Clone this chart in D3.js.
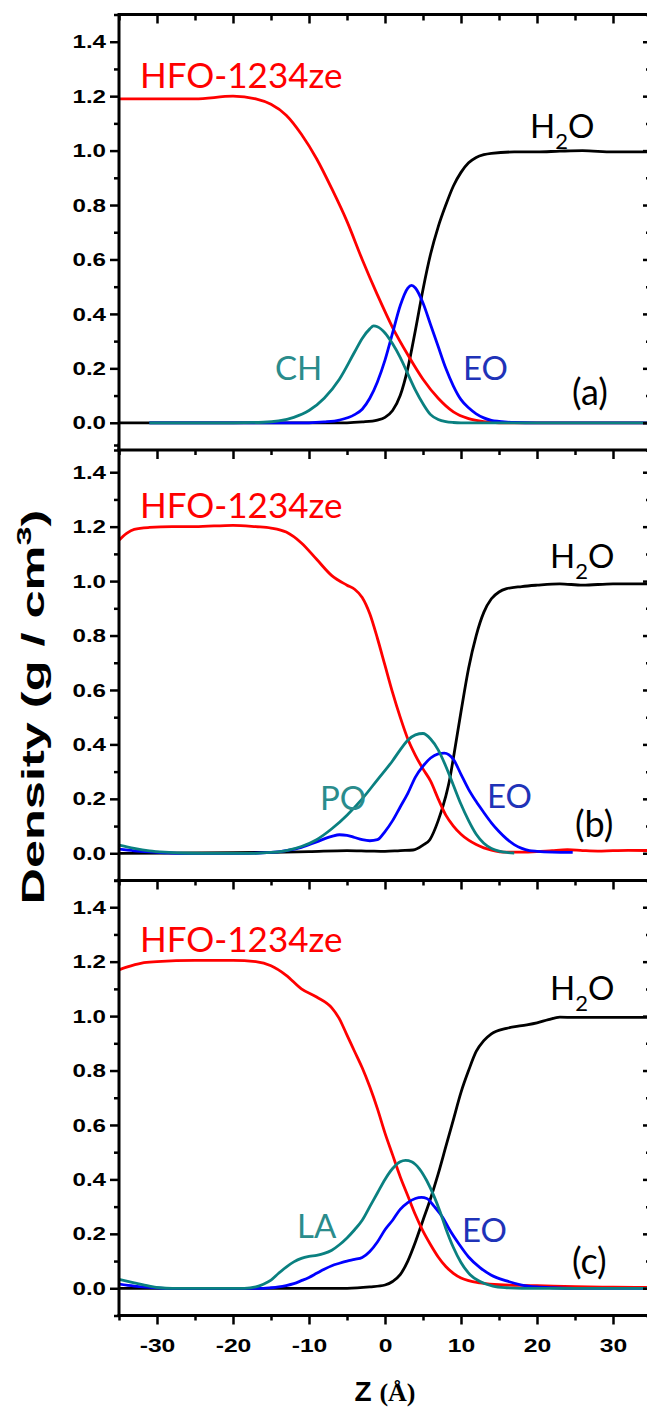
<!DOCTYPE html>
<html><head><meta charset="utf-8">
<script src="https://cdn.jsdelivr.net/npm/d3@7"></script>
<style>body{margin:0;background:#fff}</style>
</head><body>
<svg id="chart" width="647" height="1408"></svg>
<script>
// ---------------- DATA ----------------
const panelLabels = ["(a)", "(b)", "(c)"];
const surfLabels = ["CH", "PO", "LA"];
const yMajor = [0, 0.2, 0.4, 0.6, 0.8, 1.0, 1.2, 1.4];
const yMinor = [-0.1, 0.1, 0.3, 0.5, 0.7, 0.9, 1.1, 1.3, 1.5];
const xMajor = [-30, -20, -10, 0, 10, 20, 30];
const xMinor = [-35, -25, -15, -5, 5, 15, 25, 35];

// panel (a)
const aHFO_z = [-35,-30,-25,-20,-17,-15,-13,-11,-9,-7,-5,-3,-1,1,3,5,7,9,11,13,15,20,25,30,35];
const aHFO_v = [1.19,1.19,1.19,1.20,1.19,1.17,1.13,1.06,0.97,0.86,0.74,0.60,0.47,0.35,0.25,0.16,0.09,0.04,0.015,0.004,0,0,0,0,0];
const aCH_z = [-31,-20,-16,-14,-12,-10,-8,-6,-4,-3,-2,-1.5,-1,0,1,2,3,4,5,6,7,8,9,10,20,35];
const aCH_v = [0,0,0.002,0.007,0.02,0.045,0.09,0.16,0.26,0.31,0.345,0.356,0.353,0.33,0.29,0.24,0.18,0.12,0.07,0.03,0.012,0.004,0.001,0,0,0];
const aEO_z = [-31,-10,-8,-6,-4,-3,-2,-1,0,1,2,3,3.5,4,5,6,7,8,9,10,11,12,13,14,15,17,20,35];
const aEO_v = [0,0,0.003,0.01,0.03,0.05,0.09,0.15,0.23,0.33,0.43,0.495,0.505,0.495,0.44,0.36,0.28,0.2,0.135,0.085,0.055,0.033,0.018,0.009,0.005,0.001,0,0];
const aH2O_z = [-35,-5,-3,-1,0,1,2,3,4,5,6,7,8,9,10,11,12,13,14,17,20,23,26,30,35];
const aH2O_v = [0,0,0.003,0.01,0.02,0.045,0.1,0.2,0.34,0.49,0.62,0.72,0.8,0.87,0.92,0.955,0.975,0.985,0.99,0.995,0.995,0.998,1.0,0.995,0.995];

// panel (b)
const bHFO_z = [-35,-34,-33,-31,-28,-25,-20,-17,-15,-13,-11,-9,-7,-5,-4,-3,-2,-1,0,1,2,3,4,5,6,7,8,9,10,11,12,13,14,16,18,20,22,24,26,28,30,32,35];
const bHFO_v = [1.15,1.175,1.19,1.197,1.2,1.2,1.205,1.2,1.195,1.18,1.14,1.08,1.02,0.985,0.97,0.94,0.88,0.79,0.69,0.59,0.5,0.42,0.36,0.31,0.265,0.2,0.14,0.1,0.07,0.048,0.032,0.02,0.012,0.004,0.004,0.006,0.01,0.013,0.01,0.008,0.01,0.011,0.01];
const bPO_z = [-35,-33,-31,-29,-27,-24,-17,-15,-13,-11,-9,-7,-5,-3,-1,1,2,3,4,5,6,7,8,9,10,11,12,13,14,15,16,17];
const bPO_v = [0.03,0.018,0.009,0.004,0.001,0,0,0.003,0.01,0.025,0.05,0.09,0.14,0.2,0.27,0.34,0.38,0.415,0.435,0.44,0.42,0.38,0.32,0.25,0.18,0.12,0.07,0.037,0.018,0.008,0.003,0.001];
const bEO_z = [-35,-33,-31,-29,-27,-18,-15,-13,-11,-9,-7,-6,-5,-4,-3,-2,-1,0,1,2,3,4,5,6,7,7.8,9,10,11,12,13,14,15,16,17,18,19,20,22,24.7];
const bEO_v = [0.015,0.009,0.005,0.002,0,0,0.003,0.01,0.022,0.042,0.062,0.068,0.066,0.058,0.05,0.046,0.05,0.08,0.12,0.17,0.22,0.28,0.32,0.35,0.365,0.368,0.345,0.29,0.235,0.19,0.15,0.112,0.08,0.053,0.032,0.018,0.01,0.007,0.004,0.003];
const bH2O_z = [-35,-20,-10,-5,-2,0,2,3.7,5,5.9,7,8,8.5,9,10,11,12,13,14,15,16,18,20,23,26,30,35];
const bH2O_v = [0,0.002,0.006,0.01,0.008,0.007,0.01,0.012,0.03,0.05,0.12,0.21,0.27,0.35,0.52,0.68,0.8,0.885,0.935,0.96,0.972,0.98,0.985,0.99,0.985,0.99,0.99];

// panel (c)
const cHFO_z = [-35,-34,-32,-30,-25,-20,-17,-15,-13,-11,-9,-7,-6,-5,-4,-3,-2,-1,0,1,2,3,4,5,6,7,8,9,10,11,12.5,15,20,25,30,35];
const cHFO_v = [1.17,1.18,1.195,1.2,1.205,1.205,1.2,1.185,1.15,1.1,1.07,1.03,0.99,0.93,0.87,0.81,0.74,0.66,0.57,0.49,0.41,0.34,0.27,0.21,0.16,0.115,0.08,0.055,0.038,0.028,0.02,0.013,0.01,0.006,0.004,0.003];
const cLA_z = [-35,-33,-31,-29.6,-28,-18.5,-17,-16,-15,-14,-13,-12,-11,-10,-9,-8,-7,-6,-5,-4,-3,-2,-1,0,1,2,2.7,3.5,4.5,5.5,6.5,7.2,8,9,10,11.2,12.5,14.2,16,18,35];
const cLA_v = [0.033,0.02,0.008,0.002,0,0,0.005,0.015,0.03,0.055,0.078,0.097,0.11,0.117,0.121,0.128,0.14,0.16,0.185,0.215,0.25,0.3,0.35,0.4,0.44,0.465,0.47,0.465,0.44,0.395,0.335,0.285,0.22,0.15,0.095,0.05,0.025,0.008,0.002,0,0];
const cEO_z = [-35,-33,-31,-29,-16,-15,-14,-13,-12,-11,-10,-9,-8,-7,-6,-5,-4,-3,-2,-1,0,1,2,3,4,4.8,5.5,6.5,7.6,8.5,9.8,11,12.5,14,16,18,20,22,25,35];
const cEO_v = [0.015,0.008,0.003,0,0,0.002,0.005,0.01,0.017,0.028,0.04,0.055,0.07,0.083,0.092,0.1,0.106,0.113,0.135,0.17,0.215,0.25,0.29,0.315,0.33,0.334,0.33,0.3,0.26,0.215,0.16,0.115,0.076,0.048,0.027,0.012,0.005,0.002,0,0];
const cH2O_z = [-35,-5,-2,0,1,2,3,4,5,6,7,8,9,10,11,12,13,14,16,18,20,21.5,23,25,28,30,35];
const cH2O_v = [0,0,0.005,0.012,0.025,0.05,0.1,0.17,0.25,0.33,0.42,0.52,0.62,0.72,0.8,0.87,0.91,0.935,0.955,0.965,0.975,0.987,0.996,0.995,0.995,0.995,0.995];

const panels = [
  {h2o:[aH2O_z,aH2O_v], hfo:[aHFO_z,aHFO_v], eo:[aEO_z,aEO_v], surf:[aCH_z,aCH_v]},
  {h2o:[bH2O_z,bH2O_v], hfo:[bHFO_z,bHFO_v], eo:[bEO_z,bEO_v], surf:[bPO_z,bPO_v]},
  {h2o:[cH2O_z,cH2O_v], hfo:[cHFO_z,cHFO_v], eo:[cEO_z,cEO_v], surf:[cLA_z,cLA_v]}
];

// ---------------- LAYOUT ----------------
const svg = d3.select("#chart");
const X0 = 119, X1 = 651;
const tops = [14.5, 445, 880];
const PH = 435.5;
const x = d3.scaleLinear().domain([-35, 35]).range([X0, X1]);
const COL = {h2o:"#000000", hfo:"#ff0000", eo:"#0000ff", surf:"#0a8080"};
const TXT = {hfo:"#ff0000", eo:"#1f33b8", surf:"#2a8c8c", h2o:"#000"};
const LBLFONT = "Lato, 'Open Sans', sans-serif";
const AXFONT = "'Liberation Sans', Arial, sans-serif";

const labelPos = [
  {hfo:[140, 88], h2o:[530, 138], surf:[275, 380], eo:[463, 380], tag:[572, 405]},
  {hfo:[140, 518], h2o:[550, 568], surf:[320, 810], eo:[487, 808], tag:[575, 837]},
  {hfo:[140, 952], h2o:[550, 1000], surf:[297, 1238], eo:[462, 1242], tag:[572, 1274]}
];

const stretch = (sel, f) => sel.each(function() {
  const t = d3.select(this);
  if (!t.text()) return;
  const L = this.getComputedTextLength();
  t.attr("textLength", L * f).attr("lengthAdjust", "spacingAndGlyphs");
});

const drawOrder = [2, 1, 0];
drawOrder.forEach(i => {
  const T = tops[i];
  const y = d3.scaleLinear().domain([-0.1, 1.5]).range([T + PH, T]);
  const g = svg.append("g");
  g.append("rect").attr("x", X0).attr("y", T).attr("width", X1 - X0).attr("height", PH).attr("fill", "#fff");
  const clipId = "clip" + i;
  g.append("clipPath").attr("id", clipId).append("rect")
    .attr("x", X0).attr("y", T).attr("width", X1 - X0).attr("height", PH);
  const line = d3.line().x(d => x(d[0])).y(d => y(d[1])).curve(d3.curveMonotoneX);
  const p = panels[i];
  ["h2o", "hfo", "eo", "surf"].forEach(k => {
    const [zs, vs] = p[k];
    const pts = zs.map((z, j) => [z, vs[j]]);
    g.append("path").datum(pts).attr("d", line)
      .attr("clip-path", `url(#${clipId})`)
      .attr("fill", "none").attr("stroke", COL[k]).attr("stroke-width", 2.8)
      .attr("stroke-linejoin", "round");
  });

  const axStyle = sel => {
    sel.select(".domain").remove();
    sel.selectAll(".tick line").attr("stroke", "#000").attr("stroke-width", 2.5);
    sel.selectAll(".tick text").attr("font-family", AXFONT)
      .attr("font-weight", "bold").attr("font-size", 19).attr("fill", "#000");
  };
  const yl = g.append("g").attr("transform", `translate(${X0},0)`)
    .call(d3.axisLeft(y).tickValues(yMajor).tickSize(9).tickPadding(4).tickFormat(d3.format(".1f"))).call(axStyle);
  stretch(yl.selectAll(".tick text"), 1.27);
  g.append("g").attr("transform", `translate(${X0},0)`)
    .call(d3.axisLeft(y).tickValues(yMinor).tickSize(5).tickFormat("")).call(axStyle);
  g.append("g").attr("transform", `translate(${X1},0)`)
    .call(d3.axisLeft(y).tickValues(yMajor).tickFormat("")).call(axStyle)
    .selectAll(".tick line").attr("x2", -8);
  g.append("g").attr("transform", `translate(${X1},0)`)
    .call(d3.axisLeft(y).tickValues(yMinor).tickFormat("")).call(axStyle)
    .selectAll(".tick line").attr("x2", -5);
  const bot = g.append("g").attr("transform", `translate(0,${T + PH})`)
    .call(d3.axisBottom(x).tickValues(xMajor).tickSize(9).tickPadding(14)
      .tickFormat(i === 2 ? (d => String(d)) : "")).call(axStyle);
  if (i === 2) stretch(bot.selectAll(".tick text"), 1.3);
  g.append("g").attr("transform", `translate(0,${T + PH})`)
    .call(d3.axisBottom(x).tickValues(xMinor).tickSize(5).tickFormat("")).call(axStyle);
  if (i === 0) {
    g.append("g").attr("transform", `translate(0,${T})`)
      .call(d3.axisBottom(x).tickValues(xMajor).tickSize(9).tickFormat("")).call(axStyle);
    g.append("g").attr("transform", `translate(0,${T})`)
      .call(d3.axisBottom(x).tickValues(xMinor).tickSize(6).tickFormat("")).call(axStyle);
  }
  const fr = [[X0, T, X0, T + PH], [X1, T, X1, T + PH], [X0, T, X1, T], [X0, T + PH, X1, T + PH]];
  fr.forEach(f => g.append("line").attr("x1", f[0] - (f[1] === f[3] ? 1.5 : 0)).attr("y1", f[1])
    .attr("x2", f[2] + (f[1] === f[3] ? 1.5 : 0)).attr("y2", f[3])
    .attr("stroke", "#000").attr("stroke-width", 3));

  const lp = labelPos[i];
  const lab = (pos, txt, col, size) => g.append("text").attr("x", pos[0]).attr("y", pos[1])
    .attr("font-family", LBLFONT).attr("font-size", size).attr("fill", col).text(txt);
  lab(lp.hfo, "HFO-1234ze", TXT.hfo, 35);
  const h = g.append("text").attr("x", lp.h2o[0]).attr("y", lp.h2o[1])
    .attr("font-family", LBLFONT).attr("font-size", 33).attr("fill", "#000");
  h.append("tspan").text("H");
  h.append("tspan").attr("dy", 11).attr("font-size", 22).text("2");
  h.append("tspan").attr("dy", -11).text("O");
  lab(lp.surf, surfLabels[i], TXT.surf, 33);
  lab(lp.eo, "EO", TXT.eo, 33);
  lab(lp.tag, panelLabels[i], "#000", 36);
});

// y axis title
const ylab = svg.append("text")
  .attr("font-family", AXFONT).attr("font-weight", "bold").attr("font-size", 31).attr("fill", "#000");
ylab.append("tspan").text("Density (g / cm");
ylab.append("tspan").attr("dy", -13).attr("font-size", 21).text("3");
ylab.append("tspan").attr("dy", 13).text(")");
const yw = ylab.node().getBBox().width;
const ys = 395 / yw;
ylab.attr("transform", `translate(44,${707 + 395 / 2}) rotate(-90) scale(${ys},1)`);

// x axis title
const xl = svg.append("text").attr("x", 385).attr("y", 1401).attr("text-anchor", "middle")
  .attr("font-weight", "bold").attr("fill", "#000");
xl.append("tspan").attr("font-family", AXFONT).attr("font-size", 28).text("Z ");
xl.append("tspan").attr("font-family", "'Liberation Serif', 'Times New Roman', serif").attr("font-size", 26).text("(Å)");
</script>
</body></html>
